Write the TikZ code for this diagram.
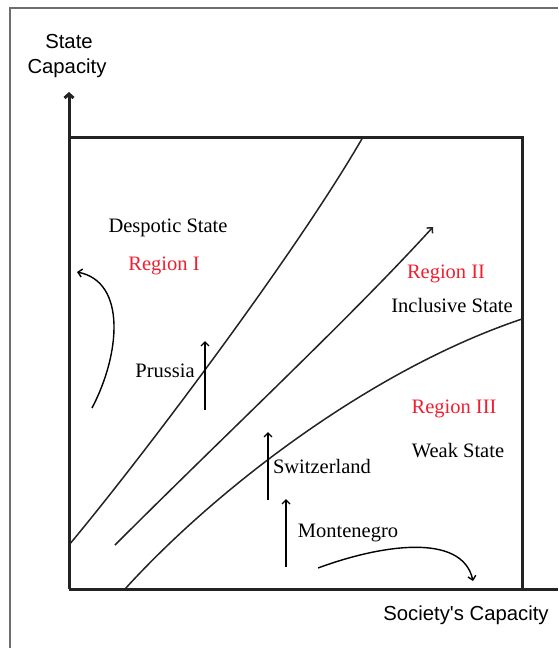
\documentclass[tikz,border=0pt]{standalone}
\usepackage{fontspec}
\setmainfont{Liberation Serif}
\newfontfamily\axisfont{Liberation Sans}
\usetikzlibrary{arrows.meta}
\definecolor{regionred}{RGB}{238,32,48}
\definecolor{framegray}{RGB}{110,110,110}
\definecolor{ink}{RGB}{35,35,35}
\begin{document}
\begin{tikzpicture}[x=1pt,y=-1pt,
  txt/.style={font=\fontsize{20.5}{23}\selectfont, inner sep=0pt, anchor=base},
  regiontxt/.style={txt, text=regionred},
  axistxt/.style={font=\axisfont\fontsize{20.3}{23}\selectfont, inner sep=0pt, anchor=base},
  boxline/.style={line width=3pt, draw=ink},
  frontier/.style={line width=1.5pt, draw=ink},
  move/.style={line width=1.4pt, draw=black, -{Straight Barb[length=4pt,width=8pt]}},
]
\useasboundingbox (0,0) rectangle (558,648);

% outer frame
\draw[framegray, line width=1.6pt] (10,648) -- (10,8) -- (558,8);

% axes and plotting box
\coordinate (origin) at (69,589);
\coordinate (ytip) at (69,92);
\coordinate (topleft) at (69,137);
\coordinate (topright) at (522,137);
\coordinate (botright) at (522,589);
\coordinate (xend) at (558,589);
\draw[boxline, -{Straight Barb[length=4pt,width=9pt]}] (origin) -- (ytip);
\draw[boxline] (topleft) -- (topright) -- (botright);
\draw[boxline] (origin) -- (xend);

% axis labels
\node[axistxt] (ylab1) at (69,48) {State};
\node[axistxt] (ylab2) at (67,73) {Capacity};
\node[axistxt] (xlab) at (466,620) {Society's Capacity};

% frontier curves
\coordinate (a0) at (69,545);
\coordinate (a1) at (363,137);
\draw[frontier] (a0) .. controls (140,460) and (295,255) .. (a1);
\coordinate (b0) at (115,545);
\coordinate (b1) at (433,227);
\draw[frontier, -{Straight Barb[length=4pt,width=8pt]}] (b0) .. controls (230,430) and (350,318) .. (b1);
\coordinate (c0) at (125,589);
\coordinate (c1) at (522,319);
\draw[frontier] (c0) .. controls (215,490) and (370,370) .. (c1);

% region labels
\node[txt] (despotic) at (168,232) {Despotic State};
\node[regiontxt] (reg1) at (164,270) {Region I};
\node[regiontxt] (reg2) at (446,278) {Region II};
\node[txt] (inclusive) at (452,312) {Inclusive State};
\node[regiontxt] (reg3) at (454,413) {Region III};
\node[txt] (weak) at (458,457) {Weak State};

% country labels
\node[txt] (prussia) at (165,377) {Prussia};
\node[txt] (swiss) at (322,473) {Switzerland};
\node[txt] (monte) at (348,537) {Montenegro};

% movement arrows
\coordinate (p0) at (205,410);
\coordinate (p1) at (205,341);
\draw[move] (p0) -- (p1);
\coordinate (s0) at (268,500);
\coordinate (s1) at (268,432);
\draw[move] (s0) -- (s1);
\coordinate (m0) at (286,567);
\coordinate (m1) at (286,499);
\draw[move] (m0) -- (m1);
\coordinate (l0) at (92,408);
\coordinate (l1) at (77,272);
\draw[move] (l0) .. controls (120,355) and (127,282) .. (l1);
\coordinate (r0) at (318,568);
\coordinate (r1) at (473,581);
\draw[move] (r0) .. controls (380,545) and (462,532) .. (r1);
\end{tikzpicture}
\end{document}
